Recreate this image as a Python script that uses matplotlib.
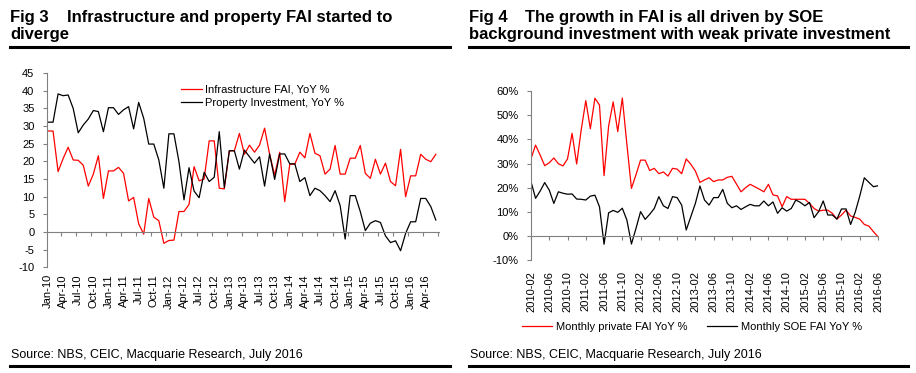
import matplotlib
matplotlib.use("Agg")
import matplotlib.pyplot as plt
import numpy as np

plt.rcParams['font.family'] = ['Liberation Sans', 'DejaVu Sans']
plt.rcParams['axes.unicode_minus'] = False

# ---------------- Data: Fig 3 ----------------
months3 = [f"{m}-{y:02d}" for y in range(10, 17) for m in
           ["Jan", "Feb", "Mar", "Apr", "May", "Jun", "Jul", "Aug", "Sep", "Oct", "Nov", "Dec"]][:78]
infra_fai = [28.6, 28.6, 17.1, 20.8, 24.0, 20.4, 20.3, 18.9, 13.0, 16.4, 21.6, 9.5, 17.3, 17.3, 18.3,
             16.6, 8.8, 9.8, 2.3, -0.6, 9.5, 4.2, 3.2, -3.2, -2.4, -2.3, 5.8, 5.8, 7.8, 18.5, 14.5,
             15.0, 25.8, 25.8, 12.4, 12.2, 23.0, 23.0,
             27.9, 22.0, 24.6, 22.6, 24.6, 29.4, 22.0, 16.1, 22.6, 8.6, 19.2, 19.2, 22.6, 21.0, 27.9,
             22.3, 21.6, 16.4, 17.8, 24.5, 16.4, 16.4, 20.9, 20.9, 24.5, 16.6, 15.2, 20.6, 16.4, 19.5,
             14.3, 13.1, 23.4, 10.0, 15.9, 15.9, 22.0, 20.6, 19.9, 22.0]
property_inv = [31.1, 31.1, 39.1, 38.6, 38.8, 35.0, 28.1, 30.3, 32.0, 34.4, 34.1, 28.4, 35.2, 35.2, 33.3,
                34.6, 35.5, 29.2, 36.7, 32.2, 24.9, 24.9, 20.4, 12.4, 27.8, 27.8, 19.9, 9.1, 18.2, 11.6,
                9.7, 16.9, 14.3, 15.5, 28.4, 12.6, 23.0, 23.0,
                17.8, 23.2, 21.3, 19.5, 21.3, 13.0, 22.1, 14.9, 22.1, 22.1, 19.3, 19.3, 14.3, 15.4,
                10.3, 12.4, 11.7, 10.3, 8.6, 11.7, 7.5, -2.0, 10.3, 10.3, 5.8, 0.4, 2.5, 3.2, 2.7,
                -1.1, -3.0, -2.5, -5.3, -0.4, 2.9, 2.9, 9.5, 9.5, 7.2, 3.4]

# ---------------- Data: Fig 4 ----------------
months4 = [f"{2010 + (m - 1) // 12}-{(m - 1) % 12 + 1:02d}" for m in range(2, 2 + 77)]
private_fai = [32.0, 37.6, 33.5, 29.1, 30.3, 32.3, 29.9, 29.0, 31.9, 42.5, 29.8, 44.0, 56.0, 44.4, 57.0,
               54.2, 25.0, 45.5, 55.5, 43.2, 57.1, 38.0, 19.7, 25.4, 31.4, 31.4, 27.1, 28.0, 25.8, 26.5,
               24.8, 28.0, 27.7, 25.8, 31.9, 29.7, 26.9, 22.2, 23.2, 24.1, 22.5, 23.2, 23.2, 24.3,
               24.7, 21.5, 18.3, 20.0, 21.4, 20.4, 19.4, 18.3, 21.4, 17.0, 16.6, 12.1, 16.3, 15.2,
               15.2, 15.2, 15.2, 13.5, 11.4, 10.3, 10.7, 10.7, 9.4, 7.0, 8.7, 10.7, 8.3, 7.7, 7.0,
               4.8, 4.1, 1.8, -0.3]
soe_fai = [22.5, 15.6, 18.6, 22.1, 19.0, 13.5, 18.3, 17.7, 17.3, 17.4, 15.3, 15.2, 14.9, 16.5, 16.9,
           12.1, -3.4, 9.6, 10.6, 9.8, 11.5, 6.6, -3.3, 3.2, 10.1, 6.9, 9.0, 11.4, 16.3, 12.5, 11.4,
           16.3, 15.9, 12.8, 2.5, 8.0, 13.5, 20.7, 14.9, 12.8, 15.9, 15.9, 19.3, 13.5, 11.7, 12.5,
           11.0, 12.1, 13.1, 12.5, 12.5, 14.5, 12.5, 14.1, 9.4, 11.7, 10.3, 11.4, 14.9, 13.9, 12.5,
           13.9, 7.6, 10.1, 14.5, 8.7, 8.7, 7.0, 11.2, 11.2, 4.8, 9.8, 16.5, 24.1, 22.2, 20.4, 20.8]

W, H = 916, 373
fig = plt.figure(figsize=(W / 100, H / 100), dpi=100)

def rect(l, t, r, b):
    return [l / W, 1 - b / H, (r - l) / W, (b - t) / H]

def fx(x):
    return x / W

def fy(y):
    return 1 - y / H

GRAY = "#808080"
TFS = 8

# ---------- Titles, rules, sources ----------
for x0, x1, xt, tag, l1, l2 in [
    (10, 450, 67, "Fig 3", "Infrastructure and property FAI started to", "diverge"),
    (469, 908, 525, "Fig 4", "The growth in FAI is all driven by SOE",
     "background investment with weak private investment")]:
    fig.text(fx(x0), fy(21.7), tag, fontsize=12, fontweight='bold', va='baseline', ha='left')
    fig.text(fx(xt), fy(21.7), l1, fontsize=12, fontweight='bold', va='baseline', ha='left')
    fig.text(fx(x0), fy(38.5), l2, fontsize=12, fontweight='bold', va='baseline', ha='left')
    fig.add_artist(plt.Line2D([fx(x0), fx(x1)], [fy(47), fy(47)], color='black', lw=2.2))
    fig.add_artist(plt.Line2D([fx(x0), fx(x1)], [fy(366), fy(366)], color='black', lw=2.2))
    fig.text(fx(x0 + 1), fy(358), "Source: NBS, CEIC, Macquarie Research, July 2016",
             fontsize=9, va='baseline', ha='left')

# ---------- Fig 3 ----------
ax1 = fig.add_axes(rect(47, 73.1, 438.6, 267.3))
x3 = np.arange(len(infra_fai))
ax1.plot(x3, infra_fai, color='#FF0000', lw=0.9, label="Infrastructure FAI, YoY %")
ax1.plot(x3, property_inv, color='black', lw=0.9, label="Property Investment, YoY %")
ax1.set_xlim(-0.2, 77.55)
ax1.set_ylim(-10, 45)
ax1.set_yticks(np.arange(-10, 46, 5))
for s in ['top', 'right']:
    ax1.spines[s].set_visible(False)
ax1.spines['left'].set_color(GRAY)
ax1.spines['bottom'].set_position(('data', 0))
ax1.spines['bottom'].set_color(GRAY)
ax1.set_xticks(np.arange(2.5, 78, 3))
ax1.tick_params(axis='x', direction='out', length=3, color=GRAY, labelbottom=False)
ax1.tick_params(axis='y', direction='out', length=3, color=GRAY, labelsize=TFS, pad=6)
sec1 = ax1.secondary_xaxis('bottom')
sec1.set_xticks(x3[::3], [months3[i] for i in x3[::3]], rotation=90)
sec1.tick_params(length=0, labelsize=TFS, pad=5)
sec1.spines['bottom'].set_visible(False)
leg1 = ax1.legend(loc='upper left', bbox_to_anchor=(fx(181), fy(85)),
                  bbox_transform=fig.transFigure, frameon=False, fontsize=TFS,
                  handlelength=1.9, handletextpad=0.3, labelspacing=0.25, borderpad=0,
                  borderaxespad=0)

# ---------- Fig 4 ----------
ax2 = fig.add_axes(rect(531, 91, 878, 260.2))
x4 = np.arange(len(private_fai))
ax2.plot(x4, np.array(private_fai) / 100, color='#FF0000', lw=0.9, label="Monthly private FAI YoY %")
ax2.plot(x4, np.array(soe_fai) / 100, color='black', lw=0.9, label="Monthly SOE FAI YoY %")
ax2.set_xlim(0, 76)
ax2.set_ylim(-0.1, 0.6)
ax2.set_yticks(np.arange(-0.1, 0.61, 0.1))
ax2.set_yticklabels([f"{v:.0f}%" for v in np.arange(-10, 61, 10)])
for s in ['top', 'right']:
    ax2.spines[s].set_visible(False)
ax2.spines['left'].set_color(GRAY)
ax2.spines['bottom'].set_position(('data', 0))
ax2.spines['bottom'].set_color(GRAY)
ax2.set_xticks(x4[::4])
ax2.tick_params(axis='x', direction='out', length=3, color=GRAY, labelbottom=False)
ax2.tick_params(axis='y', direction='out', length=3, color=GRAY, labelsize=TFS, pad=6)
sec2 = ax2.secondary_xaxis('bottom')
sec2.set_xticks(x4[::4], [months4[i] for i in x4[::4]], rotation=90)
sec2.tick_params(length=0, labelsize=TFS, pad=8)
sec2.spines['bottom'].set_visible(False)
ax2.legend(loc='center left', bbox_to_anchor=(fx(522), fy(327)), bbox_transform=fig.transFigure,
           ncol=2, frameon=False, fontsize=TFS, handlelength=2.7, handletextpad=0.35,
           columnspacing=1.8, borderpad=0, borderaxespad=0)

fig.savefig("out.png", dpi=100)
